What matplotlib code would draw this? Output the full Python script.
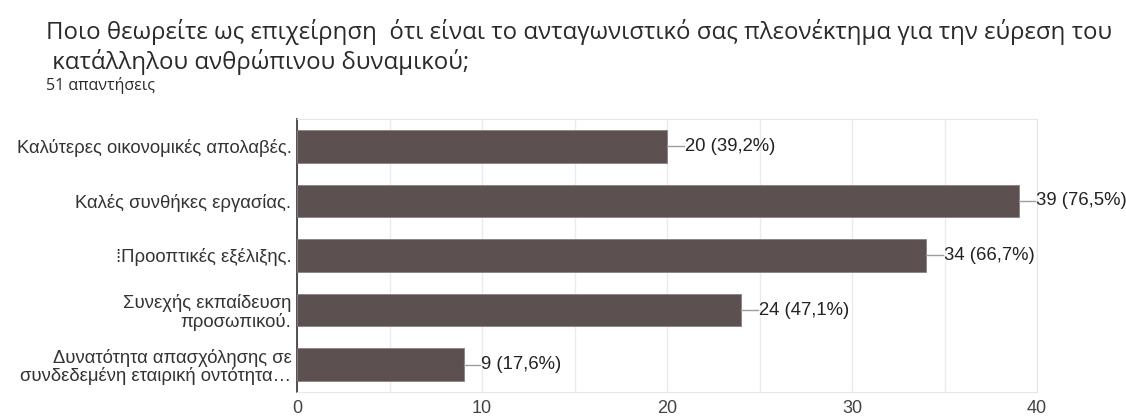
import matplotlib.pyplot as plt

title_lines = ["Ποιο θεωρείτε ως επιχείρηση  ότι είναι το ανταγωνιστικό σας πλεονέκτημα για την εύρεση του",
               " κατάλληλου ανθρώπινου δυναμικού;"]
subtitle = "51 απαντήσεις"

categories = ["Καλύτερες οικονομικές απολαβές.",
              "Καλές συνθήκες εργασίας.",
              "\u205eΠροοπτικές εξέλιξης.",
              "Συνεχής εκπαίδευση\nπροσωπικού.",
              "Δυνατότητα απασχόλησης σε\nσυνδεδεμένη εταιρική οντότητα…"]
counts = [20, 39, 34, 24, 9]
percents = ["39,2%", "76,5%", "66,7%", "47,1%", "17,6%"]
xticks = [0, 10, 20, 30, 40]

plt.rcParams['font.family'] = ['Liberation Sans', 'DejaVu Sans']

fig = plt.figure(figsize=(11.26, 4.16), dpi=100)
ax = fig.add_axes([297 / 1126, 1 - 392 / 416, (1037 - 297) / 1126, (392 - 119) / 416])

ypos = list(range(len(categories)))
ax.barh(ypos, counts, height=0.6, color='#5c5050', edgecolor='#8a8080', linewidth=0.6, zorder=3)

for y, c, p in zip(ypos, counts, percents):
    ax.plot([c, c + 0.9], [y, y], color='#9e9e9e', linewidth=1, zorder=3, clip_on=False)
    ax.text(c + 0.95, y, f"{c} ({p})", va='center', ha='left', fontsize=13.3,
            color='#222222', clip_on=False)

ax.set_xlim(0, 40)
ax.set_ylim(len(categories) - 0.5, -0.5)
ax.set_xticks(xticks)
ax.set_xticks(range(0, 41, 5), minor=True)
ax.set_yticks(ypos)
ax.set_yticklabels(categories, fontsize=13.3, color='#333333', ha='right', linespacing=1.05)
ax.tick_params(axis='y', length=0, pad=4)
ax.tick_params(axis='x', length=0, pad=6, labelsize=13, labelcolor='#444444')
ax.tick_params(axis='x', which='minor', length=0)
ax.grid(axis='x', which='both', color='#ebebeb', linewidth=1, zorder=0)

for s in ['top', 'right', 'bottom']:
    ax.spines[s].set_color('#e6e6e6')
ax.spines['left'].set_color('#333333')
ax.spines['left'].set_linewidth(1.2)

fig.text(46 / 1126, 1 - 32 / 416, title_lines[0], fontsize=17.3, color='#2a2a2a',
         va='center', ha='left', family=['Open Sans', 'DejaVu Sans'])
fig.text(46 / 1126, 1 - 62 / 416, title_lines[1], fontsize=17.3, color='#2a2a2a',
         va='center', ha='left', family=['Open Sans', 'DejaVu Sans'])
fig.text(46 / 1126, 1 - 86 / 416, subtitle, fontsize=11.5, color='#2a2a2a',
         va='center', ha='left', family=['Open Sans', 'DejaVu Sans'])

fig.savefig("out.png", dpi=100)
